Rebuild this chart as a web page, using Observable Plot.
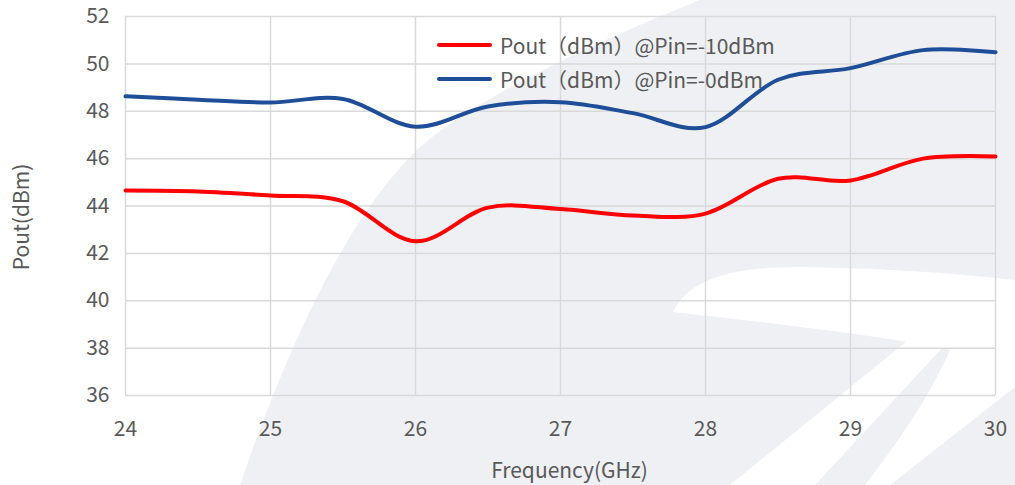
<!DOCTYPE html>
<html>
<head>
<meta charset="utf-8">
<script src="https://cdn.jsdelivr.net/npm/d3@7"></script>
<script src="https://cdn.jsdelivr.net/npm/@observablehq/plot@0.6"></script>
<style>
  html, body { margin: 0; padding: 0; background: #ffffff; }
  #wrap { position: relative; width: 1015px; height: 485px; overflow: hidden; font-family: "Noto Sans CJK SC", "Noto Sans", sans-serif; }
  #bg { position: absolute; left: 0; top: 0; }
  #chart { position: absolute; left: 0; top: 0; }
  #chart svg { background: transparent !important; }
  .legend { position: absolute; left: 437px; color: #595959; font-size: 21px; display: flex; align-items: center; white-space: nowrap; }
  .legend .sw { width: 55px; height: 4px; border-radius: 2px; margin-right: 8px; }
</style>
</head>
<body>
<div id="wrap">
  <svg id="bg" width="1015" height="485" viewBox="0 0 1015 485">
    <path fill="#eff0f4" d="M 700 0 C 600 40 470 100 417 150 C 360 205 300 310 240 485 L 1015 485 L 1015 0 Z"/>
    <path fill="#ffffff" d="M 673 312 C 690 276 740 266 810 267 C 900 269 960 274 1015 280 L 1015 387 L 890 485 L 865 485 C 900 440 930 395 950 350 C 880 335 760 322 673 312 Z"/>
    <path fill="#ffffff" d="M 917 333 L 945 345 L 815 485 L 730 485 Z"/>
  </svg>
  <div id="chart"></div>
  <div class="legend" style="top:30px"><div class="sw" style="background:#ff0000"></div>Pout（dBm）@Pin=-10dBm</div>
  <div class="legend" style="top:64px"><div class="sw" style="background:#1f4e99"></div>Pout（dBm）@Pin=-0dBm</div>
</div>
<script>
const freq = [24, 24.5, 25, 25.5, 26, 26.5, 27, 27.5, 28, 28.5, 29, 29.5, 30];
const poutPinMinus10 = [44.65, 44.61, 44.44, 44.2, 42.51, 43.93, 43.87, 43.6, 43.68, 45.15, 45.08, 46.0, 46.09];
const poutPin0 = [48.63, 48.49, 48.37, 48.52, 47.35, 48.2, 48.38, 47.92, 47.33, 49.33, 49.82, 50.58, 50.49];
const seriesNames = ["Pout（dBm）@Pin=-10dBm", "Pout（dBm）@Pin=-0dBm"];
const seriesColors = ["#ff0000", "#1f4e99"];
const xTicks = [24, 25, 26, 27, 28, 29, 30];
const yTicks = [36, 38, 40, 42, 44, 46, 48, 50, 52];
const xLabel = "Frequency(GHz)";
const yLabel = "Pout(dBm)";

const rows = [];
freq.forEach((f, i) => {
  rows.push({f, v: poutPinMinus10[i], s: seriesNames[0]});
  rows.push({f, v: poutPin0[i], s: seriesNames[1]});
});

const chart = Plot.plot({
  width: 1015,
  height: 485,
  marginLeft: 125,
  marginRight: 20,
  marginTop: 16,
  marginBottom: 90,
  style: {background: "transparent", fontFamily: "'Noto Sans CJK SC', 'Noto Sans', sans-serif", fontSize: "21px", color: "#595959"},
  x: {domain: [24, 30]},
  y: {domain: [36, 52]},
  color: {domain: seriesNames, range: seriesColors},
  marks: [
    Plot.gridX(xTicks, {stroke: "#d9d9d9", strokeOpacity: 1, strokeWidth: 1.5}),
    Plot.gridY(yTicks, {stroke: "#d9d9d9", strokeOpacity: 1, strokeWidth: 1.5}),
    Plot.axisX(xTicks, {tickSize: 0, tickPadding: 26, tickFormat: d => String(d), fill: "#595959", fontSize: 21, label: null}),
    Plot.axisY(yTicks, {tickSize: 0, tickPadding: 16, tickFormat: d => String(d), fill: "#595959", fontSize: 21, label: null}),
    Plot.text([xLabel], {text: d => d, frameAnchor: "bottom", textAnchor: "middle", dx: 9, dy: 82, fill: "#595959", fontSize: 21}),
    Plot.text([yLabel], {text: d => d, frameAnchor: "left", textAnchor: "middle", rotate: -90, dx: -103, dy: 11, fill: "#595959", fontSize: 21}),
    Plot.line(rows, {x: "f", y: "v", z: "s", stroke: "s", strokeWidth: 4, curve: "cardinal", tension: 0})
  ]
});
document.getElementById("chart").appendChild(chart);
</script>
</body>
</html>
